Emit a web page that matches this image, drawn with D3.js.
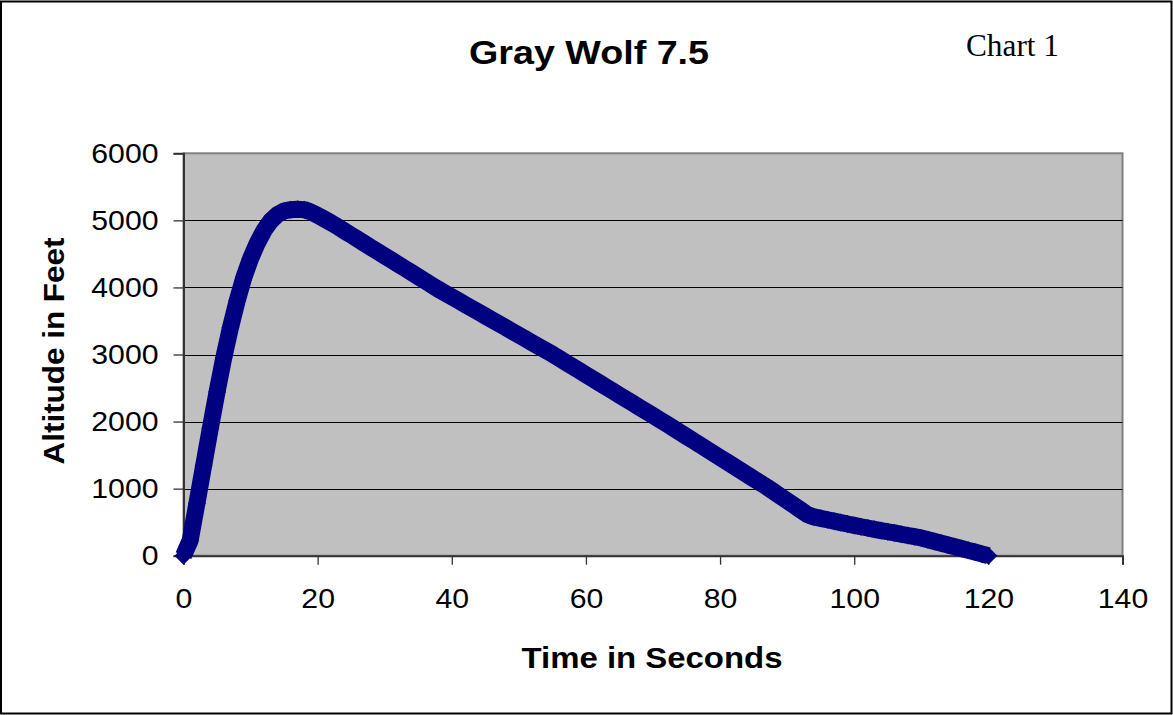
<!DOCTYPE html>
<html>
<head>
<meta charset="utf-8">
<script src="https://d3js.org/d3.v7.min.js"></script>
<style>
	body { margin: 0; background: #fff; }
	svg { display: block; }
	.tick text { font-family: Arial, 'Liberation Sans', sans-serif; fill: #000; }
</style>
</head>
<body>
<div id="chart"></div>
<script>

//////////////////////////////// data ////////////////////////////////////
var chartTitle = "Gray Wolf 7.5";
var chartNote = "Chart 1";
var xTitle = "Time in Seconds";
var yTitle = "Altitude in Feet";

var xTicks = [0, 20, 40, 60, 80, 100, 120, 140];
var yTicks = [0, 1000, 2000, 3000, 4000, 5000, 6000];

//seconds since launch
var timeSec = [
	0, 1, 2, 3, 4, 5, 6, 7, 8, 9, 10, 11, 12, 13, 14, 15, 16, 17, 18, 19,
	20, 21, 22, 23, 24, 25, 26, 27, 28, 29, 30, 31, 32, 33, 34, 35, 36, 37, 38, 39,
	40, 41, 42, 43, 44, 45, 46, 47, 48, 49, 50, 51, 52, 53, 54, 55, 56, 57, 58, 59,
	60, 61, 62, 63, 64, 65, 66, 67, 68, 69, 70, 71, 72, 73, 74, 75, 76, 77, 78, 79,
	80, 81, 82, 83, 84, 85, 86, 87, 88, 89, 90, 91, 92, 93, 94, 95, 96, 97, 98, 99,
	100, 101, 102, 103, 104, 105, 106, 107, 108, 109, 110, 111, 112, 113, 114, 115, 116, 117, 118, 119,
	120
];

//altitude in feet
var altitudeFt = [
	0, 230, 780, 1340, 1900, 2440, 2950, 3400, 3800, 4150,
	4430, 4660, 4850, 4990, 5085, 5140, 5160, 5165, 5160, 5125,
	5075, 5020, 4965, 4905, 4842, 4780, 4718, 4655, 4593, 4532,
	4470, 4408, 4346, 4284, 4222, 4160, 4098, 4035, 3973, 3916,
	3859, 3802, 3745, 3688, 3631, 3574, 3517, 3460, 3403, 3346,
	3289, 3232, 3175, 3118, 3061, 3004, 2943, 2882, 2821, 2760,
	2699, 2638, 2577, 2516, 2455, 2394, 2333, 2272, 2211, 2150,
	2089, 2028, 1967, 1904, 1841, 1778, 1715, 1652, 1589, 1526,
	1463, 1400, 1337, 1274, 1211, 1148, 1085, 1022, 955, 887,
	819, 751, 683, 615, 578, 557, 536, 515, 494, 473,
	452, 432, 413, 394, 375, 357, 339, 320, 301, 283,
	264, 238, 212, 186, 160, 134, 107, 80, 54, 27,
	0
];

var data = timeSec.map(function(t, i) { return { t: t, alt: altitudeFt[i] }; });

///////////////////////////// layout /////////////////////////////////////
var width = 1173, height = 715;
var plot = { left: 183.5, right: 1122.5, top: 153.3, bottom: 555.7 };

var svg = d3.select("#chart").append("svg")
	.attr("width", width)
	.attr("height", height);

//outer frame
svg.append("rect")
	.attr("x", 1).attr("y", 1.5)
	.attr("width", width - 2.5).attr("height", height - 3)
	.style("fill", "#fff")
	.style("stroke", "#000")
	.style("stroke-width", 2);

var x = d3.scaleLinear().domain([0, 140]).range([plot.left, plot.right]);
var y = d3.scaleLinear().domain([0, 6000]).range([plot.bottom, plot.top]);

//plot area
svg.append("rect")
	.attr("x", plot.left).attr("y", plot.top)
	.attr("width", plot.right - plot.left).attr("height", plot.bottom - plot.top)
	.style("fill", "#C0C0C0")
	.style("stroke", "#808080")
	.style("stroke-width", 2);

//gridlines
svg.append("g")
	.selectAll("line")
	.data(yTicks.filter(function(d) { return d > 0 && d < 6000; }))
	.enter().append("line")
	.attr("x1", plot.left).attr("x2", plot.right)
	.attr("y1", function(d) { return Math.round(y(d)) + 0.5; })
	.attr("y2", function(d) { return Math.round(y(d)) + 0.5; })
	.style("stroke", "#000")
	.style("stroke-width", 1.2);

//axes
var yAxis = d3.axisLeft(y).tickValues(yTicks).tickSize(10).tickPadding(15).tickFormat(d3.format("d"));
var xAxis = d3.axisBottom(x).tickValues(xTicks).tickSize(9).tickPadding(23).tickFormat(d3.format("d"));

var gy = svg.append("g")
	.attr("transform", "translate(" + plot.left + ",0)")
	.call(yAxis);
var gx = svg.append("g")
	.attr("transform", "translate(0," + plot.bottom + ")")
	.call(xAxis);

[gx, gy].forEach(function(g) {
	g.select(".domain").style("stroke", "#333").style("stroke-width", 2);
	g.selectAll(".tick line").style("stroke", "#333").style("stroke-width", 1.3);
	g.selectAll(".tick text")
		.style("font-size", "28px")
		.attr("textLength", function(d) { return String(d).length * 16.8; })
		.attr("lengthAdjust", "spacingAndGlyphs");
});

//series: thick navy line with diamond markers
var line = d3.line()
	.x(function(d) { return x(d.t); })
	.y(function(d) { return y(d.alt); });

svg.append("path")
	.datum(data)
	.attr("d", line)
	.style("fill", "none")
	.style("stroke", "#000080")
	.style("stroke-width", 17)
	.style("stroke-linejoin", "round");

var diamond = "M0,-9L9,0L0,9L-9,0Z";
svg.append("g")
	.selectAll("path")
	.data(data)
	.enter().append("path")
	.attr("d", diamond)
	.attr("transform", function(d) { return "translate(" + x(d.t) + "," + y(d.alt) + ")"; })
	.style("fill", "#000080");

//titles
svg.append("text")
	.attr("x", 589).attr("y", 64)
	.attr("text-anchor", "middle")
	.attr("textLength", 240)
	.attr("lengthAdjust", "spacingAndGlyphs")
	.style("font-family", "Arial, 'Liberation Sans', sans-serif")
	.style("font-weight", "bold")
	.style("font-size", "33px")
	.text(chartTitle);

svg.append("text")
	.attr("x", 966).attr("y", 56)
	.attr("textLength", 93)
	.attr("lengthAdjust", "spacingAndGlyphs")
	.style("font-family", "'Times New Roman', 'Liberation Serif', serif")
	.style("font-size", "31px")
	.text(chartNote);

svg.append("text")
	.attr("x", 652).attr("y", 668)
	.attr("text-anchor", "middle")
	.attr("textLength", 261)
	.attr("lengthAdjust", "spacingAndGlyphs")
	.style("font-family", "Arial, 'Liberation Sans', sans-serif")
	.style("font-weight", "bold")
	.style("font-size", "30px")
	.text(xTitle);

svg.append("text")
	.attr("transform", "translate(63.5,351) rotate(-90)")
	.attr("text-anchor", "middle")
	.attr("textLength", 227)
	.attr("lengthAdjust", "spacingAndGlyphs")
	.style("font-family", "Arial, 'Liberation Sans', sans-serif")
	.style("font-weight", "bold")
	.style("font-size", "30px")
	.text(yTitle);

</script>
</body>
</html>
